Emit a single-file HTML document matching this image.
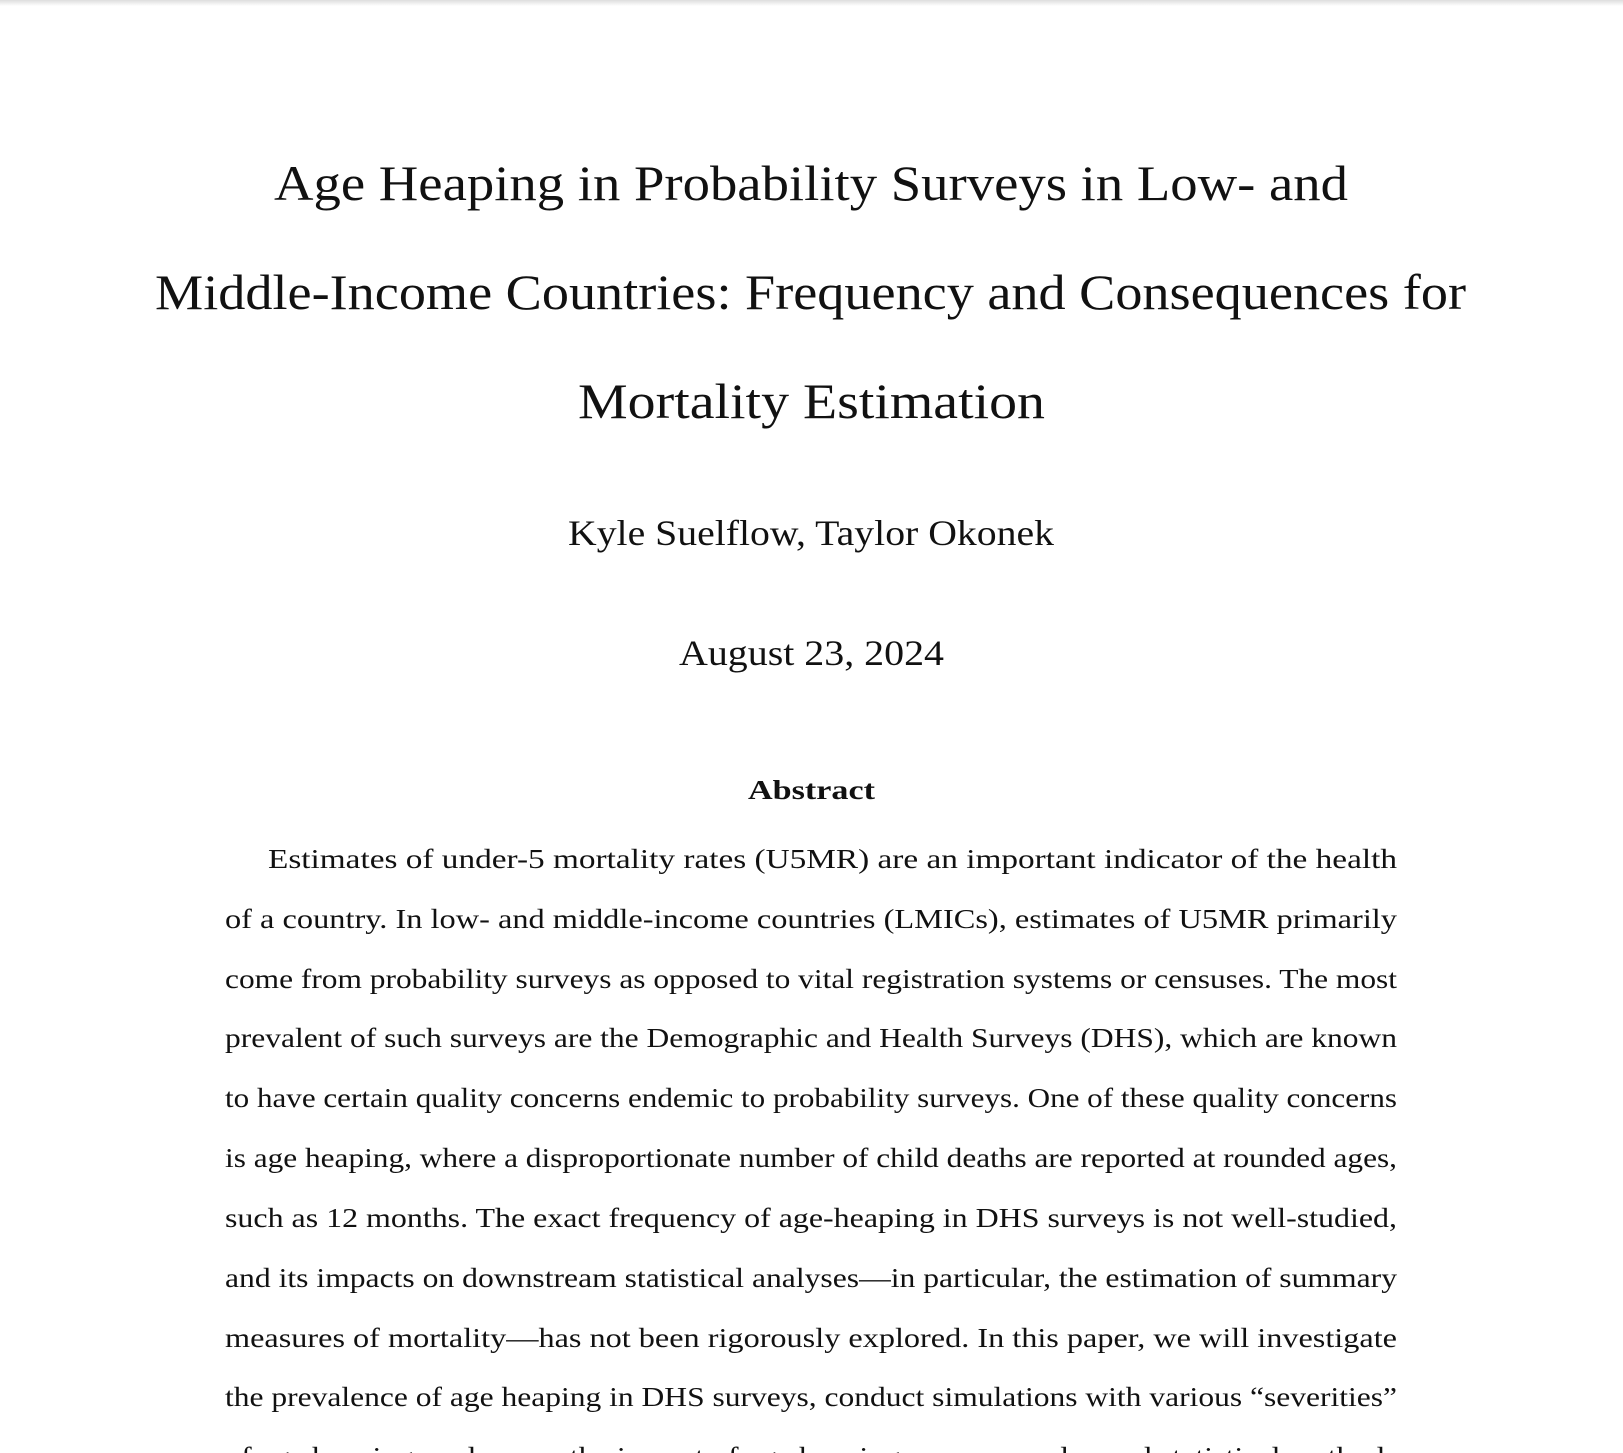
<!DOCTYPE html>
<html><head><meta charset="utf-8">
<style>
html,body{margin:0;padding:0;background:#fff;}
svg{display:block;}
text{font-family:"Liberation Serif",serif;fill:#111;}
</style></head>
<body>
<svg width="1623" height="1453" viewBox="0 0 1623 1453">
<defs><linearGradient id="sh" x1="0" y1="0" x2="0" y2="1"><stop offset="0" stop-color="#ddd"/><stop offset="1" stop-color="#fff"/></linearGradient></defs>
<rect x="0" y="0" width="1623" height="6" fill="url(#sh)"/>
<g font-size="50">
<text x="274" y="200" textLength="1074" lengthAdjust="spacingAndGlyphs">Age Heaping in Probability Surveys in Low- and</text>
<text x="155" y="309" textLength="1311" lengthAdjust="spacingAndGlyphs">Middle-Income Countries: Frequency and Consequences for</text>
<text x="578" y="418" textLength="467" lengthAdjust="spacingAndGlyphs">Mortality Estimation</text>
</g>
<text x="568" y="545" font-size="36" textLength="486" lengthAdjust="spacingAndGlyphs">Kyle Suelflow, Taylor Okonek</text>
<text x="679" y="665" font-size="36" textLength="265" lengthAdjust="spacingAndGlyphs">August 23, 2024</text>
<text x="748" y="799" font-size="27" font-weight="bold" textLength="127" lengthAdjust="spacingAndGlyphs">Abstract</text>
<g font-size="27">
<text x="268" y="868" textLength="1129" lengthAdjust="spacingAndGlyphs">Estimates of under-5 mortality rates (U5MR) are an important indicator of the health</text>
<text x="225" y="928" textLength="1172" lengthAdjust="spacingAndGlyphs">of a country.  In low- and middle-income countries (LMICs), estimates of U5MR primarily</text>
<text x="225" y="988" textLength="1172" lengthAdjust="spacingAndGlyphs">come from probability surveys as opposed to vital registration systems or censuses.  The most</text>
<text x="225" y="1047" textLength="1172" lengthAdjust="spacingAndGlyphs">prevalent of such surveys are the Demographic and Health Surveys (DHS), which are known</text>
<text x="225" y="1107" textLength="1172" lengthAdjust="spacingAndGlyphs">to have certain quality concerns endemic to probability surveys.  One of these quality concerns</text>
<text x="225" y="1167" textLength="1172" lengthAdjust="spacingAndGlyphs">is age heaping, where a disproportionate number of child deaths are reported at rounded ages,</text>
<text x="225" y="1227" textLength="1172" lengthAdjust="spacingAndGlyphs">such as 12 months.  The exact frequency of age-heaping in DHS surveys is not well-studied,</text>
<text x="225" y="1287" textLength="1172" lengthAdjust="spacingAndGlyphs">and its impacts on downstream statistical analyses—in particular, the estimation of summary</text>
<text x="225" y="1347" textLength="1172" lengthAdjust="spacingAndGlyphs">measures of mortality—has not been rigorously explored.  In this paper, we will investigate</text>
<text x="225" y="1406" textLength="1172" lengthAdjust="spacingAndGlyphs">the prevalence of age heaping in DHS surveys, conduct simulations with various “severities”</text>
<text x="225" y="1466" textLength="1172" lengthAdjust="spacingAndGlyphs">of age heaping, and assess the impact of age heaping on commonly used statistical methods</text>
</g>
</svg>
</body></html>
